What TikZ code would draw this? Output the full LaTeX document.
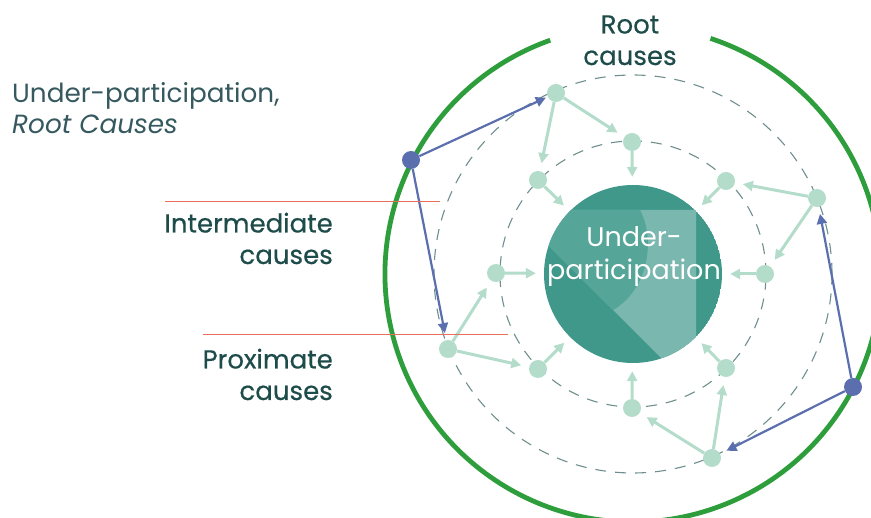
\documentclass[tikz,border=0pt]{standalone}
\usepackage{fontspec}
\setmainfont{Poppins}
\newfontfamily\tagfont{Poppins}[FakeBold=0.5]
\usetikzlibrary{arrows.meta}

\definecolor{rimgreen}{HTML}{2E9E3C}
\definecolor{causeblue}{HTML}{5B6FAF}
\definecolor{mint}{HTML}{B3DCCB}
\definecolor{ringgray}{HTML}{6F8E8E}
\definecolor{coredark}{HTML}{3F988A}
\definecolor{coremid}{HTML}{55A598}
\definecolor{corelight}{HTML}{7AB8AF}
\definecolor{inkteal}{HTML}{1E4C4A}
\definecolor{titleteal}{HTML}{35595F}
\definecolor{tickred}{HTML}{E8705A}

\begin{document}
\begin{tikzpicture}[x=1pt, y=-1pt, >={Triangle[length=10pt, width=10pt]},
    cause/.style={circle, fill=mint, minimum size=18pt, inner sep=0pt},
    rootdot/.style={circle, fill=causeblue, minimum size=18pt, inner sep=0pt},
    feed/.style={->, draw=mint, line width=3pt, shorten >=8pt},
    link/.style={->, draw=causeblue, line width=2.2pt, shorten >=7pt},
    ring/.style={draw=ringgray, line width=1.1pt, dash pattern=on 11pt off 9pt},
    rim/.style={draw=rimgreen, line width=4.8pt},
    tick/.style={draw=tickred, line width=1pt},
    leveltext/.style={text=inkteal, font=\tagfont\fontsize{26}{31.5}\selectfont, inner sep=0pt}]
    \useasboundingbox (0,0) rectangle (871,518);

    % Rings
    \coordinate (ctr) at (633,274);
    \draw[ring] (ctr) circle[radius=199pt];
    \draw[ring] (ctr) circle[radius=133pt];
    \draw[rim] (ctr) ++(109.5:248pt) arc[start angle=109.5, end angle=431.8, radius=248pt];

    % Core disc
    \begin{scope}
        \clip (ctr) circle[radius=89pt];
        \fill[coredark] (ctr) circle[radius=89pt];
        \fill[corelight] (513,210) -- (696,210) -- (696,393) -- cycle;
        \fill[coremid] (520,210) -- (640,210) .. controls (656,240) and (648,290) .. (613,310) -- (520,217) -- cycle;
    \end{scope}
    \node[circle, minimum size=178pt, inner sep=0pt] (core) at (ctr) {};
    \node[text=white, align=center, inner sep=0pt, font=\fontsize{27}{33}\selectfont, anchor=base] (coretitle) at (634,280) {Under-\\participation};

    % Root, intermediate and proximate causes
    \node[cause] (r1) at (556,93) {};
    \node[cause] (r2) at (817,198) {};
    \node[cause] (r3) at (712,458) {};
    \node[cause] (r4) at (448,349) {};
    \node[cause] (p1) at (632,142) {};
    \node[cause] (p2) at (538,180) {};
    \node[cause] (p3) at (726,181) {};
    \node[cause] (p4) at (765,274) {};
    \node[cause] (p5) at (726,368) {};
    \node[cause] (p6) at (632,408) {};
    \node[cause] (p7) at (538,369) {};
    \node[cause] (p8) at (496,273) {};
    \node[rootdot] (u1) at (411,160) {};
    \node[rootdot] (u2) at (853,387) {};

    % Connect the causes
    \draw[link, shorten >=2pt] (u1) -- (r1);
    \draw[link] (u1) -- (r4);
    \draw[link] (u2) -- (r2);
    \draw[link] (u2) -- (r3);

    \draw[feed] (r1) -- (p1);
    \draw[feed] (r1) -- (p2);
    \draw[feed] (r2) -- (p3);
    \draw[feed] (r2) -- (p4);
    \draw[feed] (r3) -- (p5);
    \draw[feed] (r3) -- (p6);
    \draw[feed] (r4) -- (p7);
    \draw[feed] (r4) -- (p8);
    \foreach \i in {1,...,8}
        \draw[feed] (p\i) -- (core);

    % Labels
    \node[text=titleteal, font=\fontsize{26.3}{31}\selectfont, inner sep=0pt, align=left, anchor=base west] (title) at (12,134) {Under-participation,\\\textit{Root Causes}};
    \node[leveltext, align=center, anchor=base] (roottext) at (630,65) {Root\\causes};
    \node[leveltext, align=right, anchor=base east] (midtext) at (333,264) {Intermediate\\causes};
    \node[leveltext, align=right, anchor=base east] (neartext) at (333,400) {Proximate\\causes};
    \coordinate (midtickA) at (165,202);
    \coordinate (midtickB) at (440,202);
    \coordinate (neartickA) at (203,335);
    \coordinate (neartickB) at (508,335);
    \draw[tick] (midtickA) -- (midtickB);
    \draw[tick] (neartickA) -- (neartickB);
\end{tikzpicture}
\end{document}
